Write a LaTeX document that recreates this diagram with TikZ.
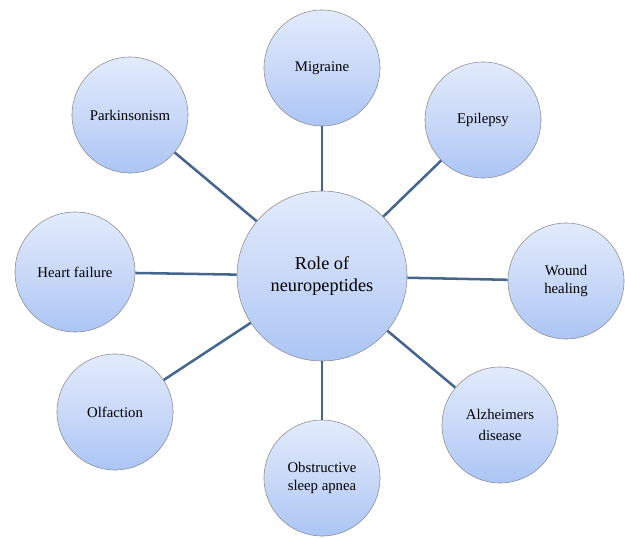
\documentclass[tikz,border=0pt]{standalone}
\usepackage{fontspec}
\setmainfont{Liberation Serif}
\definecolor{toplight}{HTML}{E2EBFC}
\definecolor{midblue}{HTML}{CAD9F8}
\definecolor{botblue}{HTML}{ABC5F4}
\definecolor{rimgray}{HTML}{8C8C8C}
\definecolor{spoke}{HTML}{45668F}
\begin{document}
\begin{tikzpicture}[x=0.025cm, y=-0.025cm,
    bubble/.style={circle, draw=rimgray, line width=0.4pt, top color=toplight, bottom color=botblue, middle color=midblue,
                   minimum size=2.9cm, inner sep=0pt, align=center, font=\fontsize{10.5}{12.5}\selectfont},
    hub/.style={bubble, minimum size=4.25cm, font=\fontsize{13}{15}\selectfont},
    link/.style={spoke, line width=1.8pt}]
    \useasboundingbox (0,0) rectangle (625,538);

    % spokes under the bubbles
    \node[hub] (role) at (322,276) {Role of\\neuropeptides};
    \node[bubble] (mig) at (322,68) {Migraine};
    \node[bubble] (epi) at (483,120) {Epilepsy};
    \node[bubble] (wou) at (566,281) {Wound\\healing};
    \node[bubble] (alz) at (500,425) {Alzheimers\\[3pt]disease};
    \node[bubble] (osa) at (322,478) {Obstructive\\sleep apnea};
    \node[bubble] (olf) at (115,412) {Olfaction};
    \node[bubble, minimum size=3cm] (hrt) at (75,272) {Heart failure};
    \node[bubble] (par) at (130,115) {Parkinsonism};

    \foreach \s in {mig,epi,wou,alz,osa,olf,hrt,par}
        \draw[link] (role) -- (\s);
\end{tikzpicture}
\end{document}
